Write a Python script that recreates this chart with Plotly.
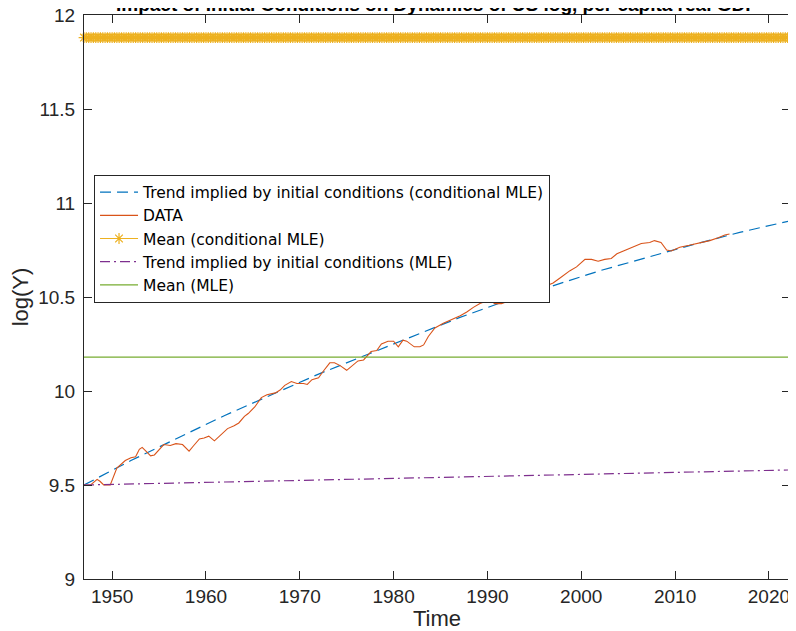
import numpy as np
import plotly.graph_objects as go

# ---------------- data ----------------
data_years = [1947.0, 1947.7, 1948.4, 1948.7, 1949.1, 1949.8, 1950.5, 1951.4, 1952.0, 1952.5,
              1952.9, 1953.2, 1953.6, 1954.1, 1954.5, 1955.0, 1955.5, 1956.2, 1956.8, 1957.5,
              1957.8, 1958.2, 1958.7, 1959.3, 1959.8, 1960.3, 1960.9, 1961.6, 1962.3, 1963.0,
              1963.5, 1964.1, 1964.5, 1965.2, 1965.9, 1966.5, 1967.4, 1967.9, 1968.4, 1969.1,
              1969.7, 1970.4, 1970.8, 1971.3, 1972.0, 1972.5, 1973.2, 1973.7, 1974.3, 1975.0,
              1975.7, 1976.2, 1976.8, 1977.3, 1977.6, 1978.2, 1978.7, 1979.4, 1980.0, 1980.5,
              1981.0, 1981.4, 1981.8, 1982.2, 1982.8, 1983.2, 1983.7, 1984.4, 1985.3, 1986.2,
              1987.1, 1987.8, 1988.5, 1989.2, 1989.7, 1990.3, 1990.8, 1991.5, 1992.0, 1992.7,
              1993.6, 1994.5, 1995.6, 1996.3, 1997.0, 1997.7, 1998.8, 1999.5, 2000.4, 2001.1,
              2001.8, 2002.5, 2003.2, 2003.8, 2004.8, 2005.7, 2006.4, 2007.3, 2007.8, 2008.5,
              2009.1, 2009.6, 2010.5, 2011.5, 2012.3, 2013.0, 2013.7, 2014.6, 2015.3, 2015.8]
data_logy = [9.50, 9.50, 9.53, 9.52, 9.50, 9.50, 9.59, 9.63, 9.645, 9.65,
             9.69, 9.70, 9.68, 9.655, 9.66, 9.69, 9.715, 9.71, 9.72, 9.715,
             9.70, 9.68, 9.71, 9.745, 9.75, 9.76, 9.735, 9.77, 9.80, 9.815,
             9.83, 9.865, 9.88, 9.915, 9.965, 9.98, 9.99, 10.005, 10.03, 10.05,
             10.04, 10.04, 10.035, 10.06, 10.07, 10.105, 10.15, 10.15, 10.135, 10.11,
             10.14, 10.16, 10.165, 10.19, 10.21, 10.215, 10.25, 10.265, 10.265, 10.235,
             10.27, 10.265, 10.25, 10.235, 10.235, 10.245, 10.29, 10.335, 10.36, 10.38,
             10.40, 10.42, 10.445, 10.465, 10.475, 10.48, 10.465, 10.465, 10.475, 10.49,
             10.505, 10.53, 10.545, 10.56, 10.575, 10.60, 10.64, 10.66, 10.70, 10.70,
             10.69, 10.70, 10.705, 10.73, 10.75, 10.77, 10.785, 10.79, 10.80, 10.79,
             10.75, 10.745, 10.765, 10.775, 10.785, 10.79, 10.80, 10.815, 10.83, 10.835]

trend_cond_years = [1947, 1952, 1957, 1962, 1967, 1972, 1977, 1982, 1987, 1992,
                    1997, 2002, 2007, 2012, 2017, 2022.25]
trend_cond_vals = [9.50, 9.63, 9.75, 9.87, 9.98, 10.09, 10.19, 10.29, 10.39, 10.48,
                   10.56, 10.64, 10.71, 10.78, 10.845, 10.905]

trend_mle_years = [1947, 1962, 1977, 1992, 2007, 2022.25]
trend_mle_vals = [9.500, 9.516, 9.532, 9.548, 9.564, 9.580]

mean_cond_mle = 11.88
mean_mle = 10.18

x_start, x_end = 1947.0, 2022.25
quarter_years = np.arange(x_start, x_end + 0.001, 0.25)
mean_cond_vals = [mean_cond_mle] * len(quarter_years)
mean_mle_years = [x_start, x_end]
mean_mle_vals = [mean_mle, mean_mle]

x_ticks = [1950, 1960, 1970, 1980, 1990, 2000, 2010, 2020]
y_ticks = [9, 9.5, 10, 10.5, 11, 11.5, 12]
y_tick_labels = ["9", "9.5", "10", "10.5", "11", "11.5", "12"]

title_text = "Impact of Initial Conditions on Dynamics of US log, per capita real GDP"

# ---------------- styles ----------------
BLUE = "#0072BD"
ORANGE = "#D95319"
YELLOW = "#EDB120"
PURPLE = "#7E2F8E"
GREEN = "#77AC30"
AX = "#262626"
FONT = "Liberation Sans, Arial, Helvetica, sans-serif"
LEGFONT = "DejaVu Sans, Liberation Sans, Arial, sans-serif"

fig = go.Figure()
fig.add_trace(go.Scatter(x=trend_cond_years, y=trend_cond_vals, mode="lines",
                         name="Trend implied by initial conditions (conditional MLE)",
                         line=dict(color=BLUE, width=1.2, dash="11px,6px")))
fig.add_trace(go.Scatter(x=data_years, y=data_logy, mode="lines", name="DATA",
                         line=dict(color=ORANGE, width=1.1)))
fig.add_trace(go.Scatter(x=quarter_years, y=mean_cond_vals, mode="lines+markers",
                         name="Mean (conditional MLE)", cliponaxis=False,
                         line=dict(color=YELLOW, width=1.2),
                         marker=dict(symbol="asterisk-open", size=9,
                                     line=dict(color=YELLOW, width=1.2), color=YELLOW)))
fig.add_trace(go.Scatter(x=trend_mle_years, y=trend_mle_vals, mode="lines",
                         name="Trend implied by initial conditions (MLE)",
                         line=dict(color=PURPLE, width=1.2, dash="10px,4px,2px,4px")))
fig.add_trace(go.Scatter(x=mean_mle_years, y=mean_mle_vals, mode="lines", name="Mean (MLE)",
                         line=dict(color=GREEN, width=1.2)))

# the page body has an 8px margin, so the figure is 8px smaller and offset
fig.update_layout(
    width=788, height=623,
    margin=dict(l=76, r=6, t=7, b=52, pad=0, autoexpand=False),
    paper_bgcolor="white", plot_bgcolor="white",
    font=dict(family=FONT, color=AX, size=18),
    showlegend=True,
    legend=dict(x=0.0142, y=0.717, xanchor="left", yanchor="top",
                bgcolor="white", bordercolor=AX, borderwidth=1,
                font=dict(family=LEGFONT, size=15.5, color="black"),
                itemwidth=38, tracegroupgap=0),
    xaxis=dict(range=[x_start, x_end], tickvals=x_ticks, ticks="inside", ticklen=8,
               tickcolor=AX, tickwidth=1, showline=True, linecolor=AX, linewidth=1,
               mirror="ticks", showgrid=False, zeroline=False, automargin=False,
               tickfont=dict(size=19, color=AX), ticklabeloverflow="allow",
               title=dict(text="Time", font=dict(size=22, color=AX), standoff=2)),
    yaxis=dict(range=[9, 12], tickvals=y_ticks, ticktext=y_tick_labels, ticks="inside",
               ticklen=8, tickcolor=AX, tickwidth=1, showline=True, linecolor=AX,
               linewidth=1, mirror="ticks", showgrid=False, zeroline=False, automargin=False,
               tickfont=dict(size=19, color=AX), ticklabelstandoff=4,
               ticklabeloverflow="allow",
               title=dict(text="log(Y)", font=dict(size=22, color=AX), standoff=10)),
)
fig.add_annotation(text="<b>" + title_text + "</b>", xref="paper", yref="paper",
                   x=0.5, y=1, xanchor="center", yanchor="bottom", yshift=-2,
                   showarrow=False, font=dict(family=FONT, size=19, color="black"))

fig.write_html("out.html")
